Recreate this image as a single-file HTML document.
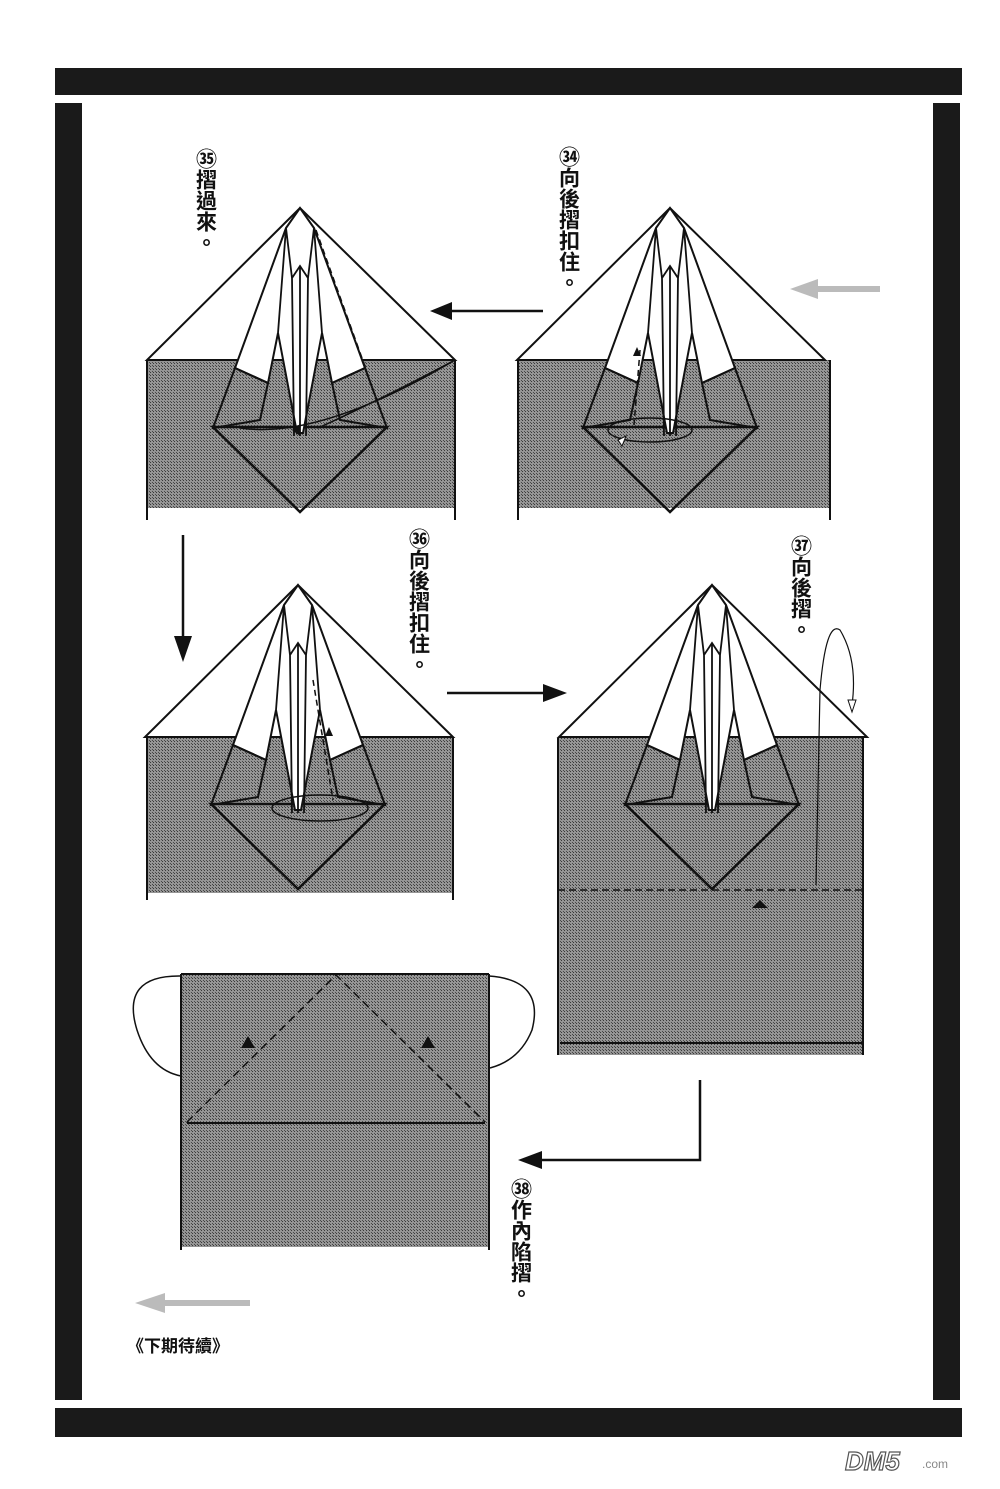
<!DOCTYPE html>
<html><head><meta charset="utf-8"><style>
body{margin:0;background:#fff}
svg{display:block}
.t{font-family:"Liberation Sans","Noto Sans CJK TC",sans-serif;font-weight:bold;font-size:21px;fill:#111}
</style></head><body>
<svg width="1000" height="1489" viewBox="0 0 1000 1489" xmlns="http://www.w3.org/2000/svg">
<defs>
<pattern id="g" width="3" height="3" patternUnits="userSpaceOnUse">
<rect width="3" height="3" fill="#959595"/><rect width="1" height="1" fill="#3a3a3a"/><rect x="2" y="2" width="1" height="1" fill="#4a4a4a"/>
</pattern>
<g id="crane">
<polygon points="0,0 -153,152 155,152" fill="#fff" stroke="#111" stroke-width="2"/>
<polygon points="-87,219 0,304 87,219" fill="none" stroke="#111" stroke-width="2.5"/>
<polygon points="-14,20 -65,160 -32,175 -22,125 -3,225 3,225 22,125 32,175 65,160 14,20 0,0" fill="#fff" stroke="#111" stroke-width="2"/>
<polygon points="-65,160 -87,220 -40,212 -32,175" fill="none" stroke="#111" stroke-width="2"/>
<polygon points="65,160 87,220 40,212 32,175" fill="none" stroke="#111" stroke-width="2"/>
<path d="M-14,20 L-8,70 L-6,228 M14,20 L8,70 L6,228 M-8,70 L0,58 L8,70 M0,58 L0,228 M-22,125 L-14,20 M22,125 L14,20" stroke="#111" stroke-width="1.8" fill="none"/>
</g>
</defs>
<rect x="55" y="68" width="907" height="27" fill="#1a1a1a"/>
<rect x="55" y="103" width="27" height="1297" fill="#1a1a1a"/>
<rect x="933" y="103" width="27" height="1297" fill="#1a1a1a"/>
<rect x="55" y="1408" width="907" height="29" fill="#1a1a1a"/>

<!-- 35 -->
<rect x="147" y="360" width="308" height="148" fill="url(#g)"/>
<path d="M147,360 V520 M455,360 V520" stroke="#111" stroke-width="2"/>
<use href="#crane" x="300" y="208"/>
<path d="M240,428 Q320,440 455,360 M318,428 Q380,400 455,360" stroke="#111" stroke-width="1.5" fill="none"/>
<path d="M316,230 L367,372" stroke="#111" stroke-width="1.5" stroke-dasharray="6,4"/>
<polygon points="292,430 300,424 300,436" fill="#111"/>

<!-- 34 -->
<rect x="518" y="360" width="312" height="148" fill="url(#g)"/>
<path d="M518,360 V520 M830,360 V520" stroke="#111" stroke-width="2"/>
<use href="#crane" x="670" y="208"/>
<path d="M640,350 L634,425" stroke="#111" stroke-width="1.5" stroke-dasharray="6,4"/>
<polygon points="637,347 633,356 641,356" fill="#111"/>
<ellipse cx="650" cy="430" rx="42" ry="12" fill="none" stroke="#111" stroke-width="1.5"/>
<polygon points="618,440 626,436 622,446" fill="#fff" stroke="#111"/>

<!-- 36 -->
<rect x="147" y="738" width="306" height="155" fill="url(#g)"/>
<path d="M147,738 V900 M453,738 V900" stroke="#111" stroke-width="2"/>
<use href="#crane" x="298" y="585"/>
<path d="M313,680 L333,800" stroke="#111" stroke-width="1.5" stroke-dasharray="6,4"/>
<polygon points="329,727 325,736 333,736" fill="#111"/>
<ellipse cx="320" cy="808" rx="48" ry="13" fill="none" stroke="#111" stroke-width="1.5"/>

<!-- 37 -->
<rect x="558" y="738" width="305" height="317" fill="url(#g)"/>
<path d="M558,738 V1055 M863,738 V1055" stroke="#111" stroke-width="2"/>
<use href="#crane" x="712" y="585"/>
<path d="M558,890 H863" stroke="#111" stroke-width="1.5" stroke-dasharray="7,4"/>
<path d="M560,1043 H862" stroke="#111" stroke-width="2"/>
<polygon points="760,900 752,908 768,908" fill="#111"/>
<path d="M816,885 L820,690 Q826,620 840,630 Q858,660 852,705" stroke="#111" stroke-width="1.2" fill="none"/>
<polygon points="848,700 856,700 852,712" fill="#fff" stroke="#111"/>

<!-- 38 -->
<path d="M181,976 Q120,975 137,1030 Q150,1070 181,1076" stroke="#111" stroke-width="1.5" fill="none"/>
<path d="M489,976 Q545,980 532,1030 Q520,1060 490,1068" stroke="#111" stroke-width="1.5" fill="none"/>
<rect x="181" y="974" width="308" height="273" fill="url(#g)"/>
<path d="M181,974 V1250 M489,974 V1250 M181,974 H489" stroke="#111" stroke-width="2"/>
<path d="M187,1123 H485" stroke="#111" stroke-width="2"/>
<path d="M187,1122 L336,975 L485,1122" stroke="#111" stroke-width="1.5" fill="none" stroke-dasharray="8,5"/>
<polygon points="248,1036 241,1048 255,1048" fill="#111"/>
<polygon points="428,1036 421,1048 435,1048" fill="#111"/>

<!-- arrows -->
<path d="M543,311 H450" stroke="#111" stroke-width="2.5"/><polygon points="430,311 452,302 452,320" fill="#111"/>
<path d="M183,535 V640" stroke="#111" stroke-width="2.5"/><polygon points="183,662 174,636 192,636" fill="#111"/>
<path d="M447,693 H545" stroke="#111" stroke-width="2.5"/><polygon points="567,693 543,684 543,702" fill="#111"/>
<path d="M700,1080 V1160 H540" stroke="#111" stroke-width="2.5" fill="none"/><polygon points="518,1160 542,1151 542,1169" fill="#111"/>
<path d="M880,289 H815" stroke="#bbb" stroke-width="6"/><polygon points="790,289 818,279 818,299" fill="#bbb"/>
<path d="M250,1303 H165" stroke="#bbb" stroke-width="6"/><polygon points="135,1303 165,1293 165,1313" fill="#bbb"/>

<!-- labels -->
<text class="t" x="205" y="148" style="writing-mode:vertical-rl">㉟摺過來。</text>
<text class="t" x="568" y="146" style="writing-mode:vertical-rl">㉞向後摺扣住。</text>
<text class="t" x="418" y="528" style="writing-mode:vertical-rl">㊱向後摺扣住。</text>
<text class="t" x="800" y="535" style="writing-mode:vertical-rl">㊲向後摺。</text>
<text class="t" x="520" y="1178" style="writing-mode:vertical-rl">㊳作內陷摺。</text>
<text class="t" x="127" y="1352" style="font-size:17px">《下期待續》</text>
<text x="845" y="1470" style="font-family:'Liberation Sans',sans-serif;font-weight:bold;font-style:italic;font-size:26px;fill:#fff;stroke:#555;stroke-width:1.2">DM5</text>
<text x="922" y="1468" style="font-family:'Liberation Sans',sans-serif;font-size:12px;fill:#888">.com</text>
</svg>
</body></html>
